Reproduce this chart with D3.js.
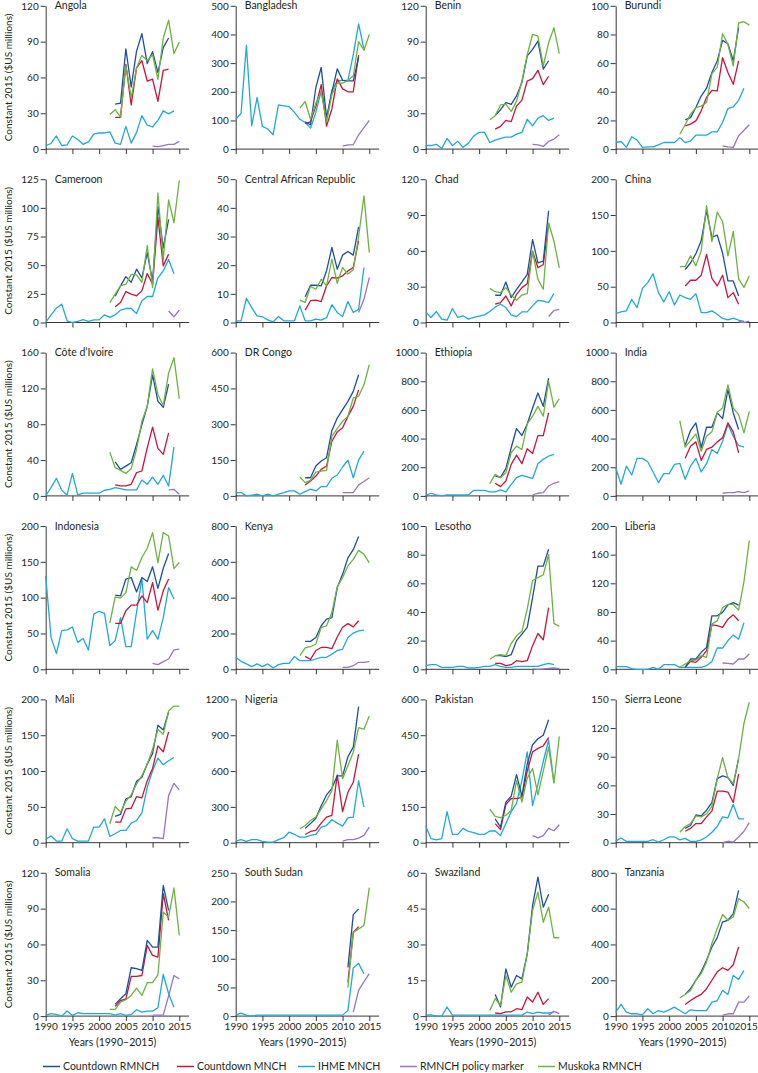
<!DOCTYPE html>
<html><head><meta charset="utf-8">
<script src="https://cdn.jsdelivr.net/npm/d3@7"></script>
<style>
body{margin:0;background:#fff}
text{font-family:Lato,"Open Sans",sans-serif;fill:#231f20}
</style>
</head><body>
<svg id="chart" width="758" height="1073"></svg>
<script>
// ---------------- DATA ----------------
const countries = ["Angola","Bangladesh","Benin","Burundi","Cameroon","Central African Republic","Chad","China",
  "Côte d’Ivoire","DR Congo","Ethiopia","India","Indonesia","Kenya","Lesotho","Liberia",
  "Mali","Nigeria","Pakistan","Sierra Leone","Somalia","South Sudan","Swaziland","Tanzania"];
const yMax  = [120,500,120,100,125,50,120,200,160,600,1000,1000,200,800,100,200,200,1200,600,150,120,250,60,800];
const yStep = [30,100,30,20,25,10,30,50,40,150,200,200,50,200,20,40,50,300,150,30,30,50,15,200];
const xTickYears = [1990,1995,2000,2005,2010,2015];

const seriesNames = ["Countdown RMNCH","Countdown MNCH","IHME MNCH","RMNCH policy marker","Muskoka RMNCH"];
const seriesColors = ["#1c4f9c","#c8143c","#1eaad8","#9b74c4","#6cb33f"];

// IHME MNCH, 1990-2014
const ihmeStart = 1990;
const ihme = [
 [3,4.7,11,3,3.5,11,8,4,6,12.5,13.5,13.5,14.5,5,4,19,5,14,28,20,18.5,24,32,29.5,32],
 [104,124,362,81,180,79,70,50,154,151,148,128,104,93,73,128,203,101,205,238,240,240,330,437,348],
 [3,3,4,0.5,9,3,6.5,1.5,5,11,14,14,5.5,7.5,9,10,10,12.5,14,25,19.5,26,28,24,26],
 [4.6,5.3,1.2,8.6,6.3,1.2,1.6,1.6,3,4.6,4.6,4.6,8,4.6,5.8,9.7,9.7,9.7,12,12,18.6,28.3,29.5,34,42.5],
 [0,6.7,12.5,16,1.5,0,1,2.6,1,2.3,2.3,6.7,4.4,6.7,10.8,12.2,12.2,7.8,19,22.7,22.7,39,45,55,42.6],
 [0.6,0.6,8.4,5.2,2.3,2,0.9,0.2,2.1,0.6,0.6,0.6,5.8,0.6,0.6,1.2,0.8,1.7,6.2,3.5,2.1,7.3,3.5,4.6,19.2],
 [8.9,4.2,9.2,2.8,1.9,11.7,4.2,5.6,2.8,4.2,5.3,6.4,9.2,13,15.3,12.5,6.4,5,8.9,8.9,13.9,18.6,18,16.7,24.4],
 [12.5,14.8,16.2,32.4,20.8,47.7,55.6,68,41.7,28.7,43,24.5,38.4,34.7,32.4,40.3,13.9,13.9,16.2,11.6,5.6,3.7,6,3.2,1.4],
 [0,9.3,19.6,6.3,1.1,25.2,1.1,3,3,3,3,6.3,7.4,9.3,8.1,6.7,6.7,6.7,17.8,13,21,13,23,11.1,54.8],
 [14,14,0,3,7,0,7,0,7,14,21,21,7,18,28,21,39,39,74,87.5,121,150,76,150,187.5],
 [5,18.5,7,0,7,7,7,7,7,39,39,39,28,28,42,28,81,127,143.5,132,120,224.5,255,278,289],
 [197,81,208,146,262,262,238,167,93,155,155,220,227,116,208,262,167,225,324,296,382,498,417,352,340],
 [130,44.5,22,54,55,59,37.6,43,27,77,81,78,33,40,72,31.6,31.6,80,126,42,54,42,72,114,98],
 [67,44.5,30,15,30,15,30,7.4,26,33,33,72,48,48,48,57.5,67,67,85,104,113,178,202,215,219],
 [2.6,3.2,3.2,1.4,1.4,1.4,2.1,2.1,0.9,0.9,1.4,2.1,2.1,3.2,2.1,1.4,1.4,2.1,2.1,2.1,2.1,2.1,3.2,4.2,3.2],
 [3.7,3.7,3.7,1,0,0,0,2.8,0,6.5,6.5,6.5,2.8,2.8,2.8,2.8,2.8,5,11,29.7,29.7,40,48,42,65],
 [4.6,9.3,2.3,2.3,19.4,5.6,2.3,2.3,2.3,21.8,21.8,33.3,8.8,12.5,17.1,17.1,27.3,31,41.7,77.3,100.5,118,108.8,114.4,119],
 [14,25,11,25,25,11,5.6,5.6,25,42,89,69,47,47,61,69,131,144,192,164,139,208,214,519,297],
 [69,17,12,17,130,35,35,60,47,42,35,35,49,49,30,80,130,165,260,380,155,245,340,430,250],
 [1.7,4.9,1.4,1.4,1.4,1.4,1.4,3.1,0.7,3.1,6,6,3,4.5,1.4,1.4,3,6,11,17,27,26,40,25,25],
 [0.8,2,1.4,0,4.2,0.6,2.8,2,2,2,2,2,2,0.8,2,0.6,1.4,5.3,3.4,4.2,4.2,7,35,18.7,7.5],
 [1.7,5,1.7,0,1.7,1.7,1.7,1.7,1.7,1.7,1.7,1.7,1.7,1.7,1.7,1.7,1.7,1.7,1.7,1.7,1.7,10,84,92,74],
 [0.5,0.5,0,0,3.8,0.4,0.4,0.4,0.4,0.4,0.4,0.4,0.4,0.4,0.4,0.4,0.4,0.4,0.4,1.7,1,1.7,1.3,1.3,1.7],
 [22,65,22,13,13,7,41,13,31,22,35,50,31,13,35,31,31,31,78,87,143,121,227,205,255]
];

// Countdown series start years
const countdownStart = [2003,2003,2003,2003,2003,2003,2003,2003,2003,2003,2003,2003,2003,2003,2003,2003,2003,2003,2003,2003,2003,2011,2003,2003];
const countdownRMNCH = [
 [37.6,38.5,84,52,82,96.6,71.6,81.6,64,85,93],
 [95,85,215,285,110,200,280,240,238,238,320],
 [28,33,39,37.5,44.5,55.7,78,83.5,90.5,67,74],
 [20.4,22,29,37,42.5,53.4,61.5,75.9,73.5,61.5,84.7],
 [23,32,40,35,46.5,39,61,36,101,65,90],
 [9,13,13,12.8,18,26.2,18.6,23.5,24.8,23.5,33.4],
 [22.8,22.8,33.9,20.8,27.8,33.9,40.3,69.4,50,51.4,93.6],
 [74,83,96,114,156,119,122,97,58,58,37],
 [38,29.6,33.3,37,57.4,79.6,100,135,105.6,99,124.8],
 [76,76,125,146,160,274,326,361,396,437.5,507],
 [140,130,190,336,470,421,502,613,718,625,822],
 [354,456,509,336,479,479,579,539,741,579,463],
 [103.5,102.5,126,128,108,128,122.5,143,113,141,161.5],
 [156,156,178,243,280,289,456,530,622,668,742],
 [9.5,9.5,8.8,10.2,20,24.6,29.2,50,72,72,83.8],
 [2.8,14.4,14.4,23.7,30.6,74.7,74.7,79.4,90,93,89.6],
 [36.6,39.4,61,64.4,85.6,91.2,109.7,124.5,163.9,157.4,182.4],
 [120,160,205,310,400,455,560,560,720,800,1140],
 [100,65,170,195,285,195,330,410,435,450,515],
 [15,18,29,28,34,42,67,70,68,60,88],
 [9.8,14.5,18.7,40.5,39.7,38.3,63.4,57.8,57.8,109.5,88.5],
 [85,177,187],
 [9,3.8,19.8,12.1,17,15.6,26,46.3,58.2,45.6,51],
 [121,153,200,247,312,386,438,526,535,572,702]
];
const countdownMNCH = [
 [26.5,26.5,71,37,68,74,57,58.5,40,66,67],
 [90,95,150,225,80,140,245,210,200,200,328],
 [16.7,19,24,23,36,41,57,59,66,54,61],
 [16.2,17.4,19.7,26.7,36,41,40.6,63.8,53.4,45.2,61.5],
 [13.7,17.4,27,24.7,23.3,27.6,42.7,33.4,91.6,49.4,59.6],
 [4.3,7.6,7.8,7.3,12.8,15.7,15.5,16.3,18,19.2,28.5],
 [15.3,16.7,22.2,13.9,23.6,29.2,32.5,59.7,45.8,48.6,83.3],
 [51,59,59,66,95,61.6,51,66,34.7,41.7,25.5],
 [12.2,11.1,11.1,13,26,27.8,53.7,76.7,53,46.3,70.4],
 [46,62.5,83,111,125,229,268,285,333,375,444],
 [88,65,104,220,285,225,329,296,421,421,579],
 [262,347,377,248,324,340,377,405,509,447,301],
 [64,64,81.7,89.6,89.6,102.5,93,121,82.6,109.5,126],
 [72,55,105,122,122,115,180,235,255,237,271],
 [4.2,4.2,2.6,3.2,6,5.3,6,16.5,25,20.6,43],
 [2.8,11,9.7,16.7,26,62,61,58.5,70,76,67.7],
 [28.7,28.7,47.2,48.1,64.4,62.5,86.6,103.7,135.2,126.9,154.6],
 [69,94,103,164,214,228,567,261,422,506,742],
 [80,55,160,185,185,190,300,380,395,405,440],
 [12,15,20,20,27,33,54,54,53,42,72],
 [8.1,13,14.5,33.2,33.2,34,59.2,50.8,49.4,102.5,80.2],
 [59,146,156],
 [1.3,1,1.8,1.8,3.1,2.7,8,5.9,10,4.9,7.3],
 [65,87,106,121,153,200,247,270,255,287,386]
];

// Muskoka RMNCH
const muskokaStart = [2002,2002,2002,2002,2002,2002,2002,2002,2002,2002,2002,2002,2002,2002,2002,2002,2002,2002,2002,2002,2002,2011,2002,2002];
const muskoka = [
 [29,33,27,70,43,68,78.5,74,79,58.5,93,108,80,89.6],
 [143,166,104,160,200,95,190,230,230,240,255,375,345,400],
 [24.5,28,37,37.6,31.5,40,57,79,96,94.7,69.6,89,101.6,80],
 [10.4,17,24.4,29,30,32.5,52.7,57,80.5,73,58,88,88.9,86.5],
 [17.4,24.7,32,33.4,42,41.5,35,67,30.5,113,55,107,87,124],
 [7.8,7,12.6,11.6,15.1,12.8,22.1,13.7,19.2,16.9,18.4,30,44.2,24.4],
 [28.6,25.8,25,29.2,23,18.6,23,24.2,59.7,36.1,27.8,83.3,68,45.8],
 [78,78,93,79,100,163,113,154,141,93,127,61,49,65],
 [48.9,31.5,28.5,25.2,30.4,51.9,83.3,100,141.9,113,101,137,154.4,108.5],
 [79,55.6,65,100,104,107,250,282,312.5,333,410,417,465,549],
 [86,150,127,162,301,347,324,502,556,625,556,799,620,678],
 [525,340,386,433,312,417,447,583,613,775,613,567,440,590],
 [64.5,101,99.3,107,143,138,156,169,190.7,149,190.7,186,140.6,149],
 [76,119,126,141,234,243,317,460,512,577,614,664,642,594],
 [7,9.5,10.2,9.5,18,23.4,26.5,42,62,64,66,80,32,30],
 [2.8,7.4,12,13,19,16.7,63,67.7,86,90.5,90.5,82.6,122.5,180],
 [26.4,50.5,42.6,57.9,66.7,82,93.5,109.7,130.6,158.3,151.4,183.8,190.7,190.7],
 [117,144,186,214,283,353,436,858,536,647,758,964,950,1061],
 [140,110,105,115,135,260,170,270,310,200,300,400,250,445],
 [11,17,20,28,27,30,38,67,89,68,62,88,125,147],
 [5.6,5.6,11.7,13.7,17.3,23.5,17.3,28,28,34.6,87,83,107.3,67.6],
 [50,146,152,158,224],
 [2.4,7.3,4.5,17,10,13.5,14.2,26,44.2,51.9,39.3,45.6,32.8,32.8],
 [102,121,143,200,237,302,405,489,567,535,553,656,637,600]
];

// RMNCH policy marker
const policyStart = [2010,2010,2010,2010,2013,2013,2013,2013,2013,2010,2010,2010,2010,2010,2010,2010,2010,2010,2010,2010,2010,2012,2013,2010];
const policy = [
 [2.5,2,3,4,4,6.5],
 [10,15,15,50,75,100],
 [4,3.6,2.2,6.4,8.4,12],
 [2.3,1.6,1.2,9.3,13.2,17],
 [10,5,10.8],
 [3.5,8.1,15.7],
 [5,10,11],
 [1.4,0,2],
 [6.7,7.4,1.9],
 [14,14,14,46,60,76],
 [7,18.5,23,69,88,99.5],
 [18.5,23,23,30,23,35],
 [8.4,6.5,10.7,14.4,27,28.3],
 [11,11,20,39,39,43],
 [0.3,0,0.3,0.7,0.9,0.5],
 [8.8,8.4,7.4,14.4,14.4,21.3],
 [6.9,6.9,5.6,65.7,82.9,73.6],
 [14,25,25,39,61,131],
 [30,20,30,60,50,75],
 [0,1.5,0.7,6,12,21],
 [0.8,0.8,0.8,17,34,31],
 [7,45,60,74],
 [0.3,2,1],
 [6,13,13,78,78,112]
];

// ---------------- DRAW ----------------
const svg = d3.select("#chart");
const colX = [45.7, 235.7, 425.7, 615.7];
const rowTop0 = 5.8, rowStep = 173.4, panelH = 143.3, plotW = 133.6, axisExt = 143.5;
const axisColor = "#231f20";

function toPoints(start, vals){ return vals.map((v,k)=>({year:start+k, v:v})); }

countries.forEach((name, i) => {
  const c = i % 4, r = Math.floor(i / 4);
  const x0 = colX[c], top = rowTop0 + r * rowStep, bottom = top + panelH;
  const x = d3.scaleLinear().domain([1990, 2015]).range([x0, x0 + plotW]);
  const y = d3.scaleLinear().domain([0, yMax[i]]).range([bottom, top]);
  const g = svg.append("g");

  // y axis
  const yt = d3.range(0, yMax[i] + 1e-9, yStep[i]);
  const ya = g.append("g").attr("transform", `translate(${x0},0)`)
    .call(d3.axisLeft(y).tickValues(yt).tickSize(5).tickSizeOuter(0).tickPadding(2).tickFormat(d3.format("d")));
  ya.selectAll("path,line").attr("stroke", axisColor).attr("stroke-width", 0.9);
  ya.selectAll("text").style("font-size", "10px").style("font-family", "Lato").attr("fill", axisColor);

  // x axis
  const bottomRow = r === 5;
  const xa = g.append("g").attr("transform", `translate(0,${bottom})`)
    .call(d3.axisBottom(x).tickValues(xTickYears).tickSize(5).tickPadding(2)
      .tickFormat(bottomRow ? d3.format("d") : () => ""));
  xa.select(".domain").remove();
  xa.selectAll("line").attr("stroke", axisColor).attr("stroke-width", 0.9);
  xa.selectAll("text").style("font-size", "10px").style("font-family", "Lato").attr("fill", axisColor);
  if (bottomRow && c === 3) {
    // keep the right-most year label inside the page edge
    xa.selectAll(".tick").filter(d => d === 2015).select("text").attr("dx", "-3.6");
  }
  g.append("line").attr("x1", x0).attr("x2", x0 + axisExt).attr("y1", bottom).attr("y2", bottom)
    .attr("stroke", axisColor).attr("stroke-width", 0.9);

  if (bottomRow) {
    g.append("text").attr("x", x0 + plotW / 2).attr("y", bottom + 29.5)
      .attr("text-anchor", "middle").style("font-size", "10.5px").text("Years (1990–2015)");
  }
  if (c === 0) {
    g.append("text").attr("transform", `translate(12,${(top + bottom) / 2}) rotate(-90)`)
      .attr("text-anchor", "middle").style("font-size", "10px").text("Constant 2015 ($US millions)");
  }

  // title
  g.append("text").attr("x", x0 + 9).attr("y", top + 3.6).style("font-size", "10.5px").text(name);

  const line = d3.line().x(d => x(d.year)).y(d => y(d.v));
  const sets = [
    toPoints(countdownStart[i], countdownRMNCH[i]),
    toPoints(countdownStart[i], countdownMNCH[i]),
    toPoints(ihmeStart, ihme[i]),
    toPoints(policyStart[i], policy[i]),
    toPoints(muskokaStart[i], muskoka[i])
  ];
  const order = [2, 3, 1, 0, 4];
  order.forEach(s => {
    g.append("path").datum(sets[s]).attr("d", line).attr("fill", "none")
      .attr("stroke", seriesColors[s]).attr("stroke-width", 1.3).attr("stroke-linejoin", "round");
  });
});

// legend
const legendX = [43, 177, 298, 400, 538];
const legY = 1066.5;
seriesNames.forEach((n, s) => {
  svg.append("line").attr("x1", legendX[s]).attr("x2", legendX[s] + 17).attr("y1", legY).attr("y2", legY)
    .attr("stroke", seriesColors[s]).attr("stroke-width", 1.5);
  svg.append("text").attr("x", legendX[s] + 20).attr("y", legY + 3.6).style("font-size", "10.5px").text(n);
});
</script>
</body></html>
